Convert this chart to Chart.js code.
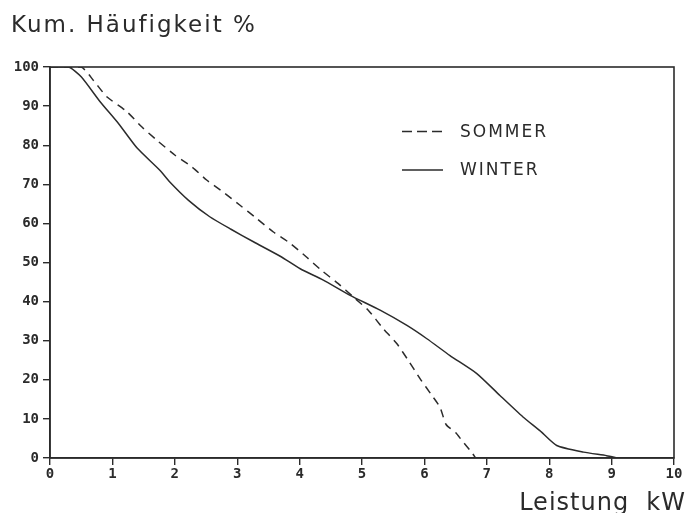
<!DOCTYPE html>
<html>
<head>
<meta charset="utf-8">
<script src="https://cdn.jsdelivr.net/npm/chart.js@4"></script>
<style>
  html, body { margin: 0; padding: 0; background: #fff; }
  #wrap { width: 687px; height: 513px; }
</style>
</head>
<body>
<div id="wrap"><canvas id="chart" width="687" height="513"></canvas></div>
<script>
// Leistung kW (x) vs. kumulierte Haeufigkeit % (y)
const sommerX = [0, 0.5, 0.7, 0.91, 1.23, 1.47, 1.71, 2.0, 2.27, 2.51, 2.8, 3.04, 3.31, 3.58, 3.85, 4.11, 4.35, 4.62, 4.86, 5.1, 5.34, 5.56, 5.74, 5.93, 6.12, 6.25, 6.35, 6.5, 6.6, 6.76, 6.82];
const sommerY = [100, 100, 96.5, 92.4, 88.6, 84.7, 81.3, 77.5, 74.5, 71.1, 67.7, 64.7, 61.3, 57.8, 54.9, 51.4, 48.0, 44.6, 41.2, 37.8, 33.1, 29.2, 25.0, 20.3, 16.0, 13.0, 8.5, 6.5, 4.5, 1.4, 0];
const winterX = [0, 0.3, 0.5, 0.8, 1.1, 1.4, 1.76, 1.92, 2.22, 2.56, 2.9, 3.26, 3.69, 4.01, 4.38, 4.81, 5.29, 5.72, 6.04, 6.41, 6.84, 7.21, 7.58, 7.85, 8.12, 8.55, 8.92, 9.1];
const winterY = [100, 100, 97.5, 91.2, 85.5, 79.2, 73.6, 70.6, 65.9, 61.7, 58.5, 55.3, 51.6, 48.4, 45.5, 41.6, 37.8, 33.9, 30.5, 26.2, 21.6, 16.0, 10.5, 7.0, 3.2, 1.5, 0.6, 0];
const seriesNames = ['SOMMER', 'WINTER'];
const xTicks = [0, 1, 2, 3, 4, 5, 6, 7, 8, 9, 10];
const yTicks = [0, 10, 20, 30, 40, 50, 60, 70, 80, 90, 100];
const yTitle = 'Kum. Häufigkeit %';
const xTitle = 'Leistung  kW';

const ink = '#2b2b2b';
const toPoints = (xs, ys) => xs.map((x, i) => ({ x: x, y: ys[i] }));

// frame, titles and legend drawn like the plotter original
const decor = {
  id: 'decor',
  afterDraw(chart) {
    const { ctx, chartArea: a } = chart;
    ctx.save();
    ctx.strokeStyle = ink;
    ctx.lineWidth = 1.6;
    ctx.strokeRect(a.left, a.top, a.right - a.left, a.bottom - a.top);

    ctx.fillStyle = ink;
    ctx.textBaseline = 'alphabetic';
    ctx.font = '23px "DejaVu Sans", sans-serif';
    ctx.letterSpacing = '2px';
    ctx.textAlign = 'left';
    ctx.fillText(yTitle, 11, 32);
    ctx.font = '24px "DejaVu Sans", sans-serif';
    ctx.letterSpacing = '1px';
    ctx.textAlign = 'right';
    ctx.fillText(xTitle, 686, 510);

    // legend
    ctx.font = '17px "DejaVu Sans", sans-serif';
    ctx.letterSpacing = '2px';
    ctx.textAlign = 'left';
    ctx.textBaseline = 'middle';
    chart.data.datasets.forEach((ds, i) => {
      const y = 131.5 + i * 38.5;
      ctx.beginPath();
      ctx.setLineDash(ds.borderDash ? [10, 5] : []);
      ctx.lineWidth = 1.4;
      ctx.moveTo(402, y);
      ctx.lineTo(443, y);
      ctx.stroke();
      ctx.setLineDash([]);
      ctx.fillText(ds.label, 460, y + 1);
    });
    ctx.restore();
  }
};

new Chart(document.getElementById('chart'), {
  type: 'scatter',
  data: {
    datasets: [
      {
        label: seriesNames[0],
        data: toPoints(sommerX, sommerY),
        showLine: true,
        borderColor: ink,
        borderWidth: 1.5,
        borderDash: [8, 6],
        pointRadius: 0,
        tension: 0.2
      },
      {
        label: seriesNames[1],
        data: toPoints(winterX, winterY),
        showLine: true,
        borderColor: ink,
        borderWidth: 1.5,
        pointRadius: 0,
        tension: 0.2
      }
    ]
  },
  options: {
    responsive: false,
    animation: false,
    layout: { padding: { left: 0, top: 67, right: 13, bottom: 25 } },
    plugins: {
      legend: { display: false },
      tooltip: { enabled: false },
      title: { display: false }
    },
    scales: {
      x: {
        type: 'linear',
        min: 0,
        max: 10,
        afterFit: s => { s.height = 30; },
        afterBuildTicks: s => { s.ticks = xTicks.map(v => ({ value: v })); },
        grid: { display: true, drawOnChartArea: false, drawTicks: true, tickLength: 7, color: ink, lineWidth: 1.4 },
        border: { display: true, color: ink, width: 1.6 },
        ticks: {
          color: ink,
          padding: 1,
          maxRotation: 0,
          font: { family: '"DejaVu Sans Mono", monospace', size: 14, weight: 'bold' }
        }
      },
      y: {
        type: 'linear',
        min: 0,
        max: 100,
        afterFit: s => { s.width = 50; },
        afterBuildTicks: s => { s.ticks = yTicks.map(v => ({ value: v })); },
        grid: { display: true, drawOnChartArea: false, drawTicks: true, tickLength: 7, color: ink, lineWidth: 1.4 },
        border: { display: true, color: ink, width: 1.6 },
        ticks: {
          color: ink,
          padding: 4,
          font: { family: '"DejaVu Sans Mono", monospace', size: 14, weight: 'bold' }
        }
      }
    }
  },
  plugins: [decor]
});
</script>
</body>
</html>
